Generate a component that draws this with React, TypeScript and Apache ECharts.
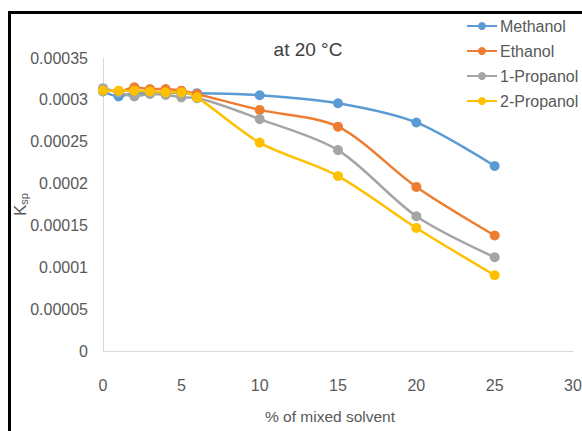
import React, { useEffect, useRef } from "react";
import * as echarts from "echarts";

const xValues = [0, 1, 2, 3, 4, 5, 6, 10, 15, 20, 25];
const methanol = [0.00031, 0.000304, 0.000308, 0.000308, 0.000309, 0.000308, 0.000308, 0.0003055, 0.000296, 0.000273, 0.000221];
const ethanol = [0.000313, 0.00031, 0.000315, 0.000313, 0.000313, 0.000311, 0.000307, 0.000288, 0.000268, 0.000196, 0.000138];
const propanol1 = [0.000314, 0.000309, 0.000304, 0.000307, 0.000306, 0.000303, 0.000302, 0.000277, 0.00024, 0.000161, 0.000112];
const propanol2 = [0.000311, 0.000311, 0.000311, 0.00031, 0.000309, 0.000309, 0.000303, 0.000249, 0.000209, 0.000147, 0.0000905];
const seriesNames = ["Methanol", "Ethanol", "1-Propanol", "2-Propanol"];
const colors = ["#5B9BD5", "#ED7D31", "#A5A5A5", "#FFC000"];
const yTickLabels = ["0", "0.00005", "0.0001", "0.00015", "0.0002", "0.00025", "0.0003", "0.00035"];
const xTickLabels = ["0", "5", "10", "15", "20", "25", "30"];

const FONT = "'Liberation Sans', Arial, sans-serif";
const TXT = "#595959";

export default function App() {
  const ref = useRef<HTMLDivElement>(null);
  useEffect(() => {
    if (!ref.current) return;
    const chart = echarts.init(ref.current, undefined, { renderer: "svg" });
    const allData = [methanol, ethanol, propanol1, propanol2];
    chart.setOption({
      animation: false,
      backgroundColor: "#ffffff",
      textStyle: { fontFamily: FONT },
      title: {
        text: "at 20 °C",
        left: 303,
        top: 35,
        textAlign: "center",
        textStyle: { fontFamily: FONT, fontSize: 19, fontWeight: "normal", color: "#404040" },
      },
      legend: {
        orient: "vertical",
        left: 461,
        top: 13,
        itemGap: 9,
        itemWidth: 30,
        itemHeight: 10,
        data: seriesNames,
        textStyle: { fontFamily: FONT, fontSize: 16, color: TXT, padding: [0, 0, 0, -2] },
      },
      graphic: [
        {
          type: "rect",
          shape: { x: 9.5, y: 12.5, width: 620, height: 500 },
          style: { fill: "none", stroke: "#000", lineWidth: 3 },
          silent: true,
          z: 100,
        },
      ],
      grid: { left: 103, right: 9, top: 58, bottom: 80, containLabel: false, outerBoundsMode: "none" },
      xAxis: {
        type: "value",
        min: 0,
        max: 30,
        interval: 5,
        name: "% of mixed solvent",
        nameLocation: "middle",
        nameGap: 57,
        nameMoveOverlap: false,
        nameTextStyle: { fontFamily: FONT, fontSize: 15.5, color: TXT, padding: [0, 16, 0, 0] },
        axisLine: { lineStyle: { color: "#D9D9D9", width: 1 } },
        axisTick: { show: false },
        splitLine: { show: false },
        axisLabel: {
          margin: 26,
          fontFamily: FONT,
          fontSize: 16,
          color: TXT,
          formatter: (v: number) => xTickLabels[Math.round(v / 5)] ?? "",
        },
      },
      yAxis: {
        type: "value",
        min: 0,
        max: 0.00035,
        interval: 0.00005,
        name: "{k|K}{s|sp}",
        nameLocation: "middle",
        nameGap: 74,
        nameMoveOverlap: false,
        nameTextStyle: {
          rich: {
            k: { fontFamily: FONT, fontSize: 17, color: TXT },
            s: { fontFamily: FONT, fontSize: 11, color: TXT, verticalAlign: "bottom", padding: [6, 0, 0, 0] },
          },
        },
        axisLine: { show: true, lineStyle: { color: "#D9D9D9", width: 1 } },
        axisTick: { show: false },
        splitLine: { show: false },
        axisLabel: {
          margin: 15,
          fontFamily: FONT,
          fontSize: 16,
          color: TXT,
          formatter: (v: number) => yTickLabels[Math.round(v / 0.00005)] ?? "",
        },
      },
      series: seriesNames.map((name, i) => ({
        name,
        type: "line",
        smooth: 0.3,
        symbol: "circle",
        symbolSize: 10,
        color: colors[i],
        lineStyle: { width: 2.5, color: colors[i] },
        itemStyle: { color: colors[i] },
        data: xValues.map((x, j) => [x, allData[i][j]]),
      })),
    });
    return () => chart.dispose();
  }, []);
  return <div ref={ref} style={{ position: "fixed", left: 0, top: 0, width: 582, height: 431 }} />;
}
